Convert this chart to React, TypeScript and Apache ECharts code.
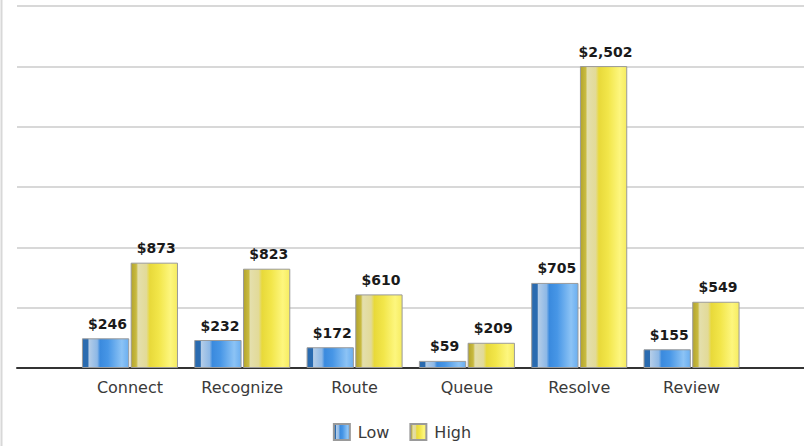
import React, { useEffect, useRef } from "react";
import * as echarts from "echarts";

const categories = ["Connect", "Recognize", "Route", "Queue", "Resolve", "Review"];
const lowValues = [246, 232, 172, 59, 705, 155];
const highValues = [873, 823, 610, 209, 2502, 549];
const seriesNames = ["Low", "High"];
const yMax = 3000;
const yStep = 500;

const FONT = "DejaVu Sans";

const blueFill = {
  type: "linear", x: 0, y: 0, x2: 1, y2: 0,
  colorStops: [
    { offset: 0, color: "#2a6bb0" },
    { offset: 0.12, color: "#2a6bb0" },
    { offset: 0.14, color: "#b4cde8" },
    { offset: 0.32, color: "#8db8e6" },
    { offset: 0.38, color: "#3a8ade" },
    { offset: 0.55, color: "#4796e6" },
    { offset: 0.85, color: "#8cc3f5" },
    { offset: 1, color: "#6aaef0" },
  ],
};
const yellowFill = {
  type: "linear", x: 0, y: 0, x2: 1, y2: 0,
  colorStops: [
    { offset: 0, color: "#b3a42c" },
    { offset: 0.11, color: "#c8ba40" },
    { offset: 0.15, color: "#e4dfac" },
    { offset: 0.33, color: "#e2da98" },
    { offset: 0.4, color: "#e8d93a" },
    { offset: 0.6, color: "#f2e64a" },
    { offset: 0.85, color: "#fdf67e" },
    { offset: 1, color: "#f6ec60" },
  ],
};

const fmt = (v: number) => "$" + v.toLocaleString("en-US");

export default function App() {
  const ref = useRef<HTMLDivElement>(null);
  useEffect(() => {
    if (!ref.current) return;
    const chart = echarts.init(ref.current, null, { renderer: "svg" });
    const label = {
      show: true,
      position: "top",
      distance: 7.5,
      offset: [2, 0],
      fontFamily: FONT,
      fontSize: 14,
      fontWeight: "bold",
      color: "#1a1a1a",
      formatter: (p: any) => fmt(p.value),
    };
    chart.setOption({
      animation: false,
      backgroundColor: "#ffffff",
      textStyle: { fontFamily: FONT },
      grid: [
        { left: 17, right: 0, top: 6, bottom: 78 },
        { left: 73.8, right: 56.3, top: 6, bottom: 78 },
      ],
      xAxis: [
        {
          gridIndex: 0, type: "value", min: 0, max: 1,
          axisLine: { show: true, onZero: false, lineStyle: { color: "#333333", width: 2 } },
          axisTick: { show: false }, axisLabel: { show: false }, splitLine: { show: false },
        },
        {
          gridIndex: 1, type: "category", data: categories,
          axisLine: { show: false }, axisTick: { show: false },
          axisLabel: { margin: 11, fontFamily: FONT, fontSize: 16, color: "#3a3a3a" },
        },
      ],
      yAxis: [
        {
          gridIndex: 0, type: "value", min: 0, max: yMax, interval: yStep,
          axisLine: { show: false }, axisTick: { show: false }, axisLabel: { show: false },
          splitLine: { show: true, lineStyle: { color: "#d8d8d8", width: 2 } },
        },
        {
          gridIndex: 1, type: "value", min: 0, max: yMax, interval: yStep,
          axisLine: { show: false }, axisTick: { show: false }, axisLabel: { show: false },
          splitLine: { show: false },
        },
      ],
      legend: {
        data: seriesNames,
        left: "center",
        top: 418,
        itemWidth: 16,
        itemHeight: 16,
        itemGap: 20,
        icon: "rect",
        textStyle: { fontFamily: FONT, fontSize: 16, color: "#3a3a3a", padding: [0, 0, 0, 3] },
      },
      series: [
        {
          name: seriesNames[0], type: "bar", xAxisIndex: 1, yAxisIndex: 1,
          data: lowValues, barGap: "3%", barCategoryGap: "14.5%",
          itemStyle: { color: blueFill, borderColor: "#9a9a9a", borderWidth: 1 },
          label,
        },
        {
          name: seriesNames[1], type: "bar", xAxisIndex: 1, yAxisIndex: 1,
          data: highValues, barGap: "3%", barCategoryGap: "14.5%",
          itemStyle: { color: yellowFill, borderColor: "#9a9a9a", borderWidth: 1 },
          label,
        },
      ],
      graphic: [
        {
          type: "line",
          shape: { x1: 1.5, y1: 0, x2: 1.5, y2: 446 },
          style: { stroke: "#d8d8d8", lineWidth: 2 },
        },
      ],
    });
    return () => chart.dispose();
  }, []);
  return (
    <div
      ref={ref}
      style={{ position: "fixed", left: 0, top: 0, width: 804, height: 446 }}
    />
  );
}
